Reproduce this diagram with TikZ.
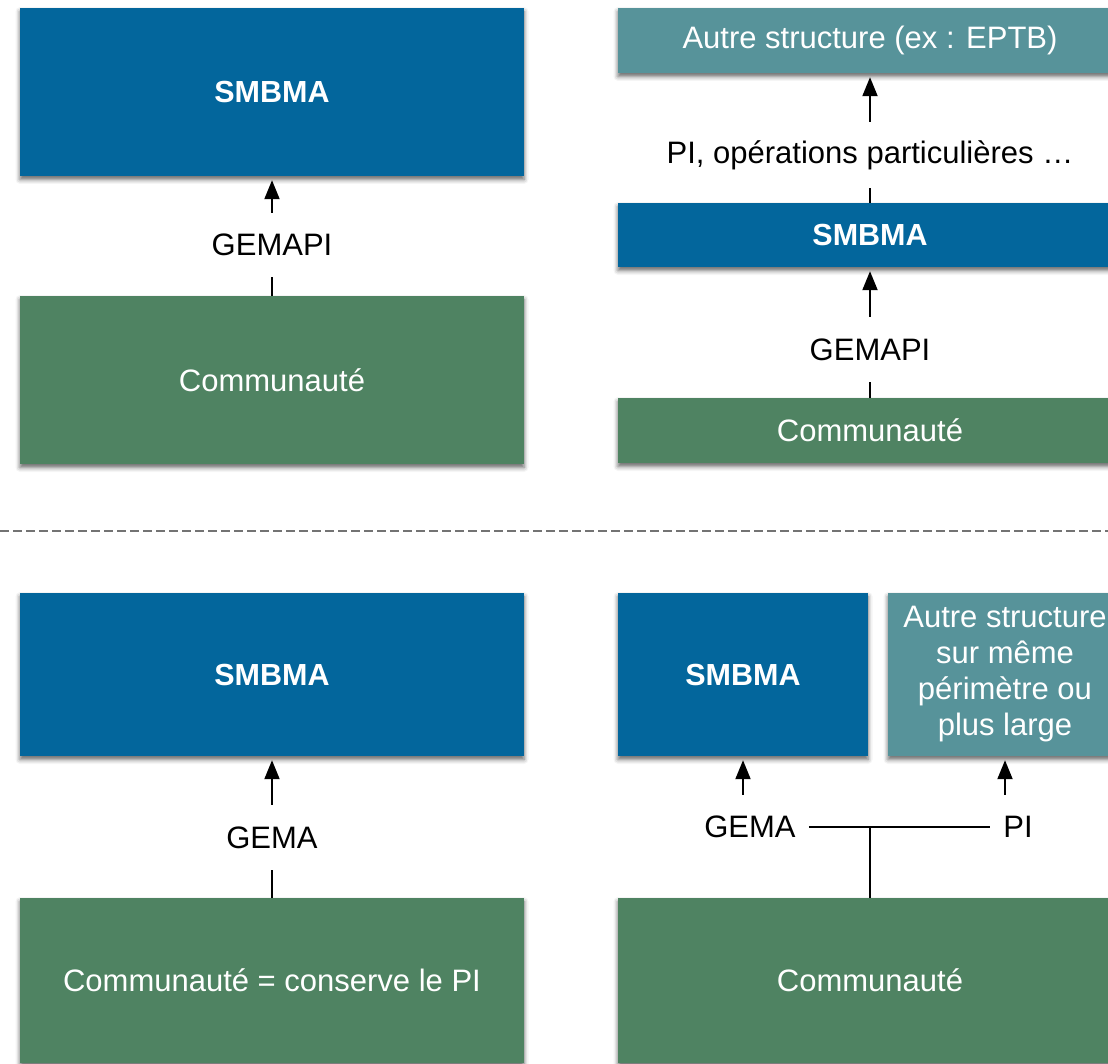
\documentclass[tikz,border=0pt]{standalone}
\usepackage{fontspec}
\setmainfont{Liberation Sans}
\usetikzlibrary{arrows.meta,shadows.blur}
\definecolor{cblue}{HTML}{03669C}
\definecolor{cgreen}{HTML}{4F8362}
\definecolor{cteal}{HTML}{57939A}
\begin{document}
\begin{tikzpicture}[x=1pt,y=-1pt,
  box/.style={rectangle, inner sep=0pt, text=white, align=center,
    font=\fontsize{31}{36}\selectfont,
    blur shadow={shadow xshift=0pt, shadow yshift=-3.5pt, shadow blur radius=4.5pt, shadow opacity=60}},
  boldtxt/.style={font=\fontsize{30.5}{36}\selectfont\bfseries},
  lab/.style={inner sep=0pt, inner xsep=13pt, minimum height=65pt, text=black,
    font=\fontsize{31}{36}\selectfont},
  conn/.style={line width=2pt, black},
  arr/.style={conn, -{Triangle[length=19pt,width=15pt]}, shorten >=4pt},
  sepline/.style={line width=1.5pt, black!55, dash pattern=on 9pt off 4pt}]
\useasboundingbox (0,0) rectangle (1108,1064);
% top-left
\node[box, boldtxt, fill=cblue, minimum width=504pt, minimum height=168pt] (s1) at (272,92) {SMBMA};
\node[box, fill=cgreen, minimum width=504pt, minimum height=168pt] (c1) at (272,380) {Communauté};
\node[lab, minimum height=64pt] (g1) at (272,245) {GEMAPI};
\draw[conn] (c1.north) -- (g1.south);
\draw[arr] (g1.north) -- (s1.south);
% top-right
\node[box, fill=cteal, minimum width=504pt, minimum height=65pt] (a2) at (870,40.5) {Autre structure (ex : EPTB)};
\node[lab, minimum height=66pt] (p2) at (870,155) {PI, opérations particulières …};
\node[box, boldtxt, fill=cblue, minimum width=504pt, minimum height=64pt] (s2) at (870,235) {SMBMA};
\node[lab] (g2) at (870,349.5) {GEMAPI};
\node[box, fill=cgreen, minimum width=504pt, minimum height=65pt] (c2) at (870,430.5) {Communauté};
\draw[conn] (s2.north) -- (p2.south);
\draw[arr] (p2.north) -- (a2.south);
\draw[conn] (c2.north) -- (g2.south);
\draw[arr] (g2.north) -- (s2.south);
% separator
\draw[sepline] (0,531) -- (1108,531);
% bottom-left
\node[box, boldtxt, fill=cblue, minimum width=504pt, minimum height=163pt] (s3) at (272,674.5) {SMBMA};
\node[lab] (g3) at (272,837.5) {GEMA};
\node[box, fill=cgreen, minimum width=504pt, minimum height=165pt] (c3) at (272,980.5) {Communauté = conserve le PI};
\draw[conn] (c3.north) -- (g3.south);
\draw[arr] (g3.north) -- (s3.south);
% bottom-right
\node[box, boldtxt, fill=cblue, minimum width=250pt, minimum height=163pt] (s4) at (743,674.5) {SMBMA};
\node[box, fill=cteal, minimum width=234pt, minimum height=163pt] (a4) at (1005,674.5) {Autre structure\\sur même\\périmètre ou\\plus large};
\node[lab, minimum height=64pt] (g4) at (750,827) {GEMA};
\node[lab, minimum height=64pt] (pi4) at (1018,827) {PI};
\node[box, fill=cgreen, minimum width=504pt, minimum height=165pt] (c4) at (870,980.5) {Communauté};
\draw[arr] (s4.south |- g4.north) -- (s4.south);
\draw[arr] (a4.south |- pi4.north) -- (a4.south);
\draw[conn] (g4.east) -- (pi4.west);
\draw[conn] (c4.north) -- (c4.north |- g4.east);
\end{tikzpicture}
\end{document}
